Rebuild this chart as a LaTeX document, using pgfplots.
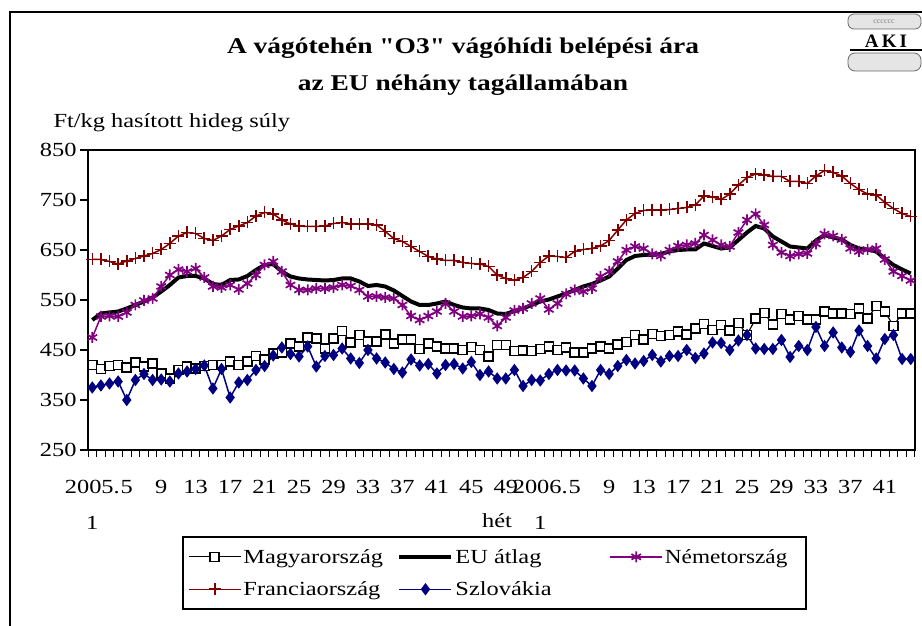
\documentclass[border=0pt]{standalone}
\usepackage{fontspec}
\setmainfont{Liberation Serif}
\usepackage{graphicx}
\usepackage{pgfplots}
\usepackage{pgfplotstable}
\pgfplotsset{compat=1.18}
\definecolor{hu}{RGB}{0,0,0}
\definecolor{de}{RGB}{128,0,128}
\definecolor{fr}{RGB}{128,0,0}
\definecolor{sk}{RGB}{0,0,128}
\newcommand{\sx}[1]{\scalebox{1.22}[1]{#1}}
\newcommand{\lx}[2]{\makebox[#1][l]{\sx{#2}}}
\newcommand{\dq}{\XeTeXglyph\XeTeXcharglyph"22\relax}
\pgfplotstableread{
i hu eu de fr sk
0 420 510 475 631 375
1 412 523 517 631 379
2 418 525 518 627 383
3 420 527 517 622 387
4 415 533 525 628 350
5 425 540 540 633 390
6 417 547 549 638 402
7 423 555 553 643 390
8 403 567 577 651 391
9 393 580 600 663 387
10 410 595 611 678 403
11 417 598 607 685 407
12 413 598 613 683 412
13 418 593 595 673 419
14 420 582 577 669 373
15 420 580 575 678 412
16 427 590 580 691 355
17 420 591 571 698 385
18 427 598 583 705 390
19 438 610 600 718 410
20 431 620 620 725 418
21 443 622 627 722 439
22 445 607 607 710 455
23 463 597 580 702 442
24 457 593 570 698 437
25 475 591 570 697 457
26 473 590 573 697 417
27 453 589 573 698 438
28 473 590 575 703 440
29 488 593 580 705 453
30 465 593 578 702 433
31 480 587 570 702 424
32 467 578 557 702 450
33 467 580 557 700 433
34 481 577 555 687 425
35 463 569 553 673 412
36 471 558 540 667 405
37 471 547 518 657 431
38 452 540 510 647 419
39 463 540 518 637 422
40 457 543 527 632 403
41 453 547 543 629 420
42 453 540 527 629 422
43 450 535 517 625 413
44 456 533 518 623 426
45 450 533 522 622 400
46 437 530 515 617 407
47 460 523 498 600 393
48 460 522 515 593 393
49 448 528 529 590 410
50 449 533 533 595 378
51 448 540 543 607 390
52 452 547 553 625 389
53 457 551 531 638 402
54 450 557 543 637 410
55 455 563 562 635 409
56 445 570 570 647 409
57 445 577 567 651 393
58 453 582 573 653 378
59 457 589 597 658 410
60 453 597 607 669 402
61 461 613 627 690 418
62 466 630 650 710 430
63 480 638 657 723 423
64 471 640 653 729 428
65 482 640 642 730 440
66 478 642 638 730 427
67 480 647 650 731 438
68 487 650 658 733 438
69 481 651 660 735 450
70 493 651 663 740 434
71 502 663 680 758 443
72 490 658 670 756 465
73 500 653 660 751 464
74 489 655 657 762 450
75 504 670 685 780 469
76 480 685 710 795 480
77 513 698 722 802 453
78 524 693 700 800 452
79 501 677 660 797 452
80 522 667 645 797 470
81 511 657 638 787 436
82 518 655 642 787 458
83 511 653 643 783 450
84 511 669 662 798 496
85 527 680 682 809 458
86 523 675 678 805 485
87 523 671 671 798 455
88 522 660 653 783 446
89 533 653 647 771 489
90 513 651 651 762 458
91 538 647 653 760 433
92 527 633 631 745 472
93 498 620 607 733 480
94 523 611 598 723 432
95 523 603 589 717 432
}\data
\begin{document}
\begin{tikzpicture}[x=1pt,y=1pt]
\path[use as bounding box] (0,0) rectangle (922,626);
% outer frame
\draw[line width=2.5pt] (10,0) -- (10,614) -- (922,614);
% logo
\draw[gray!80!black, fill=gray!20, line width=0.8pt, rounded corners=6pt] (848,612) rectangle (921,597);
\node[gray, font=\fontsize{8}{8}\selectfont] at (884,604.5) {cccccc};
\node[font=\bfseries\fontsize{19}{19}\selectfont] at (886,585) {A\,K\,I};
\draw[line width=1.5pt] (850,576) -- (922,576);
\draw[gray!80!black, fill=gray!20, line width=0.8pt, rounded corners=7pt] (848,573) rectangle (921,555);
% titles
\node[font=\bfseries\fontsize{22.5}{26}\selectfont] at (463,578) {\sx{A vágótehén \dq O3\dq{} vágóhídi belépési ára}};
\node[font=\bfseries\fontsize{22.5}{26}\selectfont] at (463,541) {\sx{az EU néhány tagállamában}};
\node[anchor=base west, font=\fontsize{20}{24}\selectfont] at (50,498) {\sx{Ft/kg hasított hideg súly}};
\node[font=\fontsize{20}{24}\selectfont] at (497,105) {\sx{hét}};
\begin{axis}[
  at={(88pt,176pt)}, anchor=south west, scale only axis,
  width=827pt, height=300pt,
  xmin=-0.5, xmax=95.5, ymin=250, ymax=850,
  axis line style={line width=1.5pt},
  tick align=outside,
  xtick pos=left, ytick pos=left,
  major tick length=8pt,
  minor tick length=7pt,
  ytick={250,350,450,550,650,750,850},
  yticklabels={\sx{250},\sx{350},\sx{450},\sx{550},\sx{650},\sx{750},\sx{850}},
  y tick style={black, line width=1.2pt},
  xtick={0,4,...,92},
  xticklabels={{\sx{2005.}\\\sx{1}},\sx{5},\sx{9},\sx{13},\sx{17},\sx{21},\sx{25},\sx{29},\sx{33},\sx{37},\sx{41},\sx{45},\sx{49},{\sx{2006.}\\\sx{1}},\sx{5},\sx{9},\sx{13},\sx{17},\sx{21},\sx{25},\sx{29},\sx{33},\sx{37},\sx{41}},
  major x tick style={draw=none},
  minor xtick={-0.5,0.5,...,95.5},
  minor x tick style={black, line width=1pt},
  xticklabel style={font=\fontsize{20}{36}\selectfont, align=center, anchor=north, yshift=-19pt},
  yticklabel style={font=\fontsize{20}{24}\selectfont},
  legend columns=3,
  legend cell align=left,
  legend style={at={(0.4915,-0.288)}, anchor=north, draw=black, line width=1.5pt,
    font=\fontsize{20}{24}\selectfont, inner xsep=5pt, inner ysep=10pt,
    row sep=13pt,
    /tikz/every even column/.append style={column sep=0pt}},
  legend image code/.code={\draw[mark repeat=2,mark phase=2,#1] plot coordinates {(0pt,0pt) (26pt,0pt) (52pt,0pt)};},
]
\addplot[black, line width=1.2pt, mark=square*, mark size=4.5pt, mark options={fill=white, line width=1.6pt, solid}] table[x=i,y=hu] {\data};
\addlegendentry{\lx{152pt}{Magyarország}}
\addplot[black, line width=4pt, no marks] table[x=i,y=eu] {\data};
\addlegendentry{\lx{152pt}{EU átlag}}
\addplot[de, line width=1.5pt, mark=asterisk, mark size=5.5pt, mark options={line width=1.7pt}] table[x=i,y=de] {\data};
\addlegendentry{\makebox[134pt][l]{\scalebox{1.16}[1]{Németország}}}
\addplot[fr, line width=1.5pt, mark=+, mark size=6pt, mark options={line width=1.6pt}] table[x=i,y=fr] {\data};
\addlegendentry{\lx{152pt}{Franciaország}}
\addplot[sk, line width=1.5pt, mark=diamond*, mark size=5pt] table[x=i,y=sk] {\data};
\addlegendentry{\lx{152pt}{Szlovákia}}
\end{axis}
\end{tikzpicture}
\end{document}
